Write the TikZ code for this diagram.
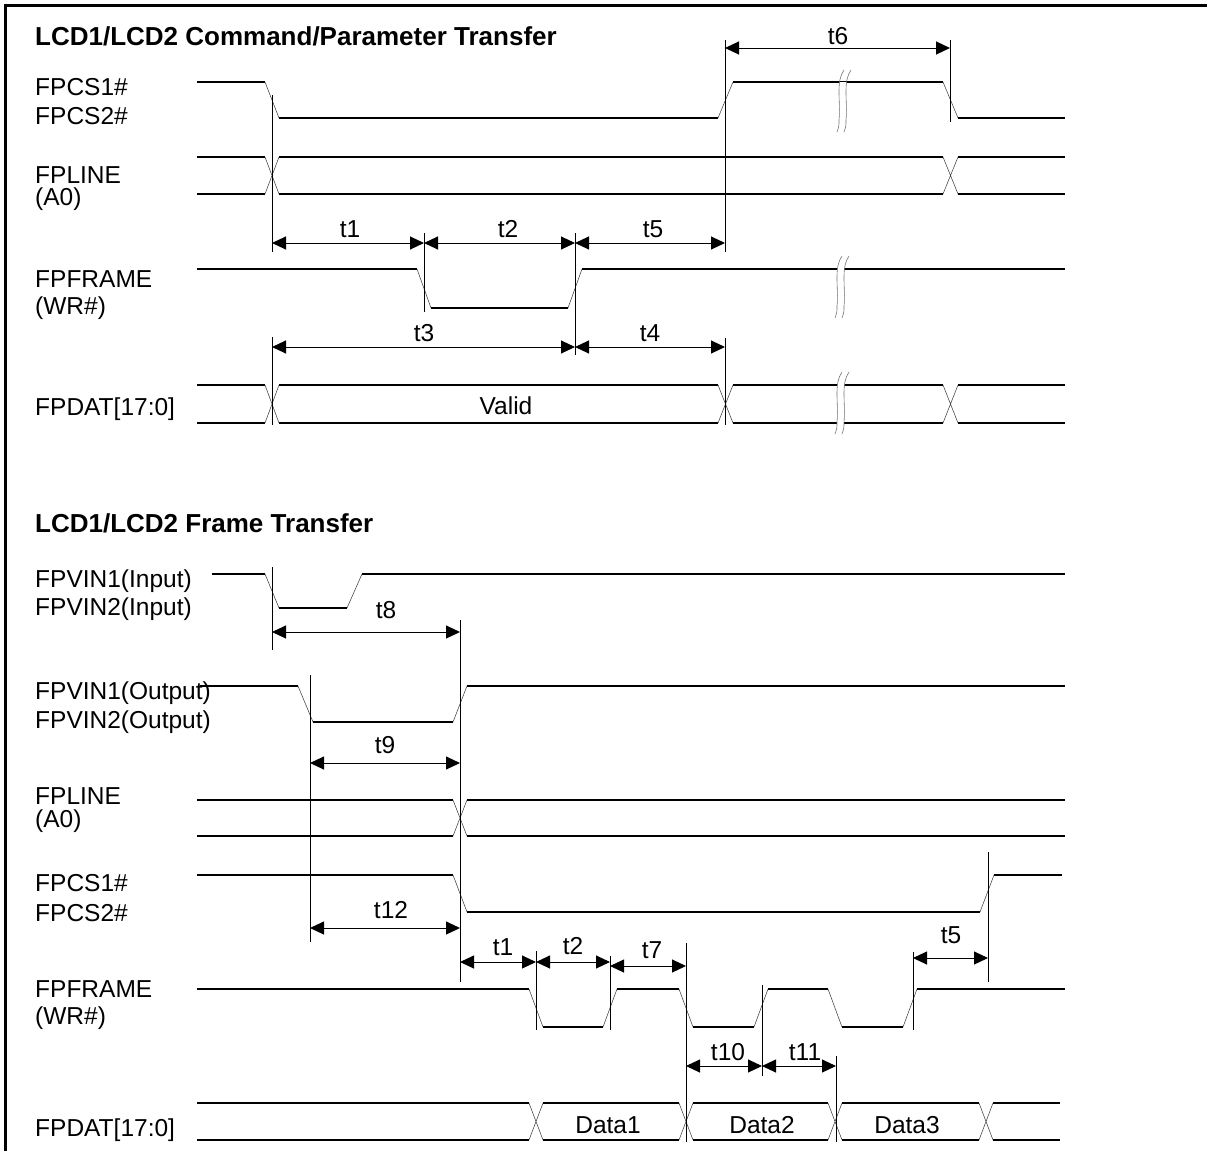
\documentclass[tikz,border=0pt]{standalone}
\usepackage{fontspec}
\setmainfont{Liberation Sans}
\usetikzlibrary{arrows.meta}
\tikzset{
  sigln/.style={line width=1.2pt, black},
  edgeln/.style={line width=0.55pt, black!75},
  vline/.style={line width=0.8pt, black},
  brkln/.style={line width=0.6pt, black!55},
  dimarr/.style={line width=1pt, {Triangle[length=14pt,width=13pt]}-{Triangle[length=14pt,width=13pt]}},
  sname/.style={font=\fontsize{24.5}{28}\selectfont, anchor=base west, inner sep=0pt},
  tname/.style={font=\fontsize{24.5}{28}\selectfont, anchor=base, inner sep=0pt},
  title/.style={font=\fontsize{26}{30}\selectfont\bfseries, anchor=base west, inner sep=0pt},
}
\newcommand\hbus[4]{\draw[sigln] (#1,#3) -- (#2,#3) (#1,#4) -- (#2,#4);}
\newcommand\xbus[4]{\draw[edgeln] (#1,#3) -- (#2,#4) (#1,#4) -- (#2,#3);}
\newcommand\brkmark[3]{%
  \fill[white] (#1,#2+12) rectangle (#1+7,#3-4);
  \foreach \dd in {0,7} {
    \draw[brkln] (#1+\dd+5,#2) .. controls (#1+\dd+1,#2+6) and (#1+\dd,#2+12) .. (#1+\dd,#2+22)
      .. controls (#1+\dd,#2+32) and (#1+\dd+1,#3-22) .. (#1+\dd,#3-12)
      .. controls (#1+\dd,#3-6) .. (#1+\dd-2,#3);
  }%
}
\begin{document}
\begin{tikzpicture}[x=1pt,y=-1pt]
\useasboundingbox (0,0) rectangle (1207,1151);
\draw[line width=3pt] (5,1151) -- (5,5) -- (1207,5);

% ================= TOP SECTION =================
\node[title] (title1) at (35,45) {LCD1/LCD2 Command/Parameter Transfer};

\node[sname] (l1a) at (35,95) {FPCS1\#};
\node[sname] (l1b) at (35,124) {FPCS2\#};
\node[sname] (l2a) at (35,183) {FPLINE};
\node[sname] (l2b) at (35,205) {(A0)};
\node[sname] (l3a) at (35,287) {FPFRAME};
\node[sname] (l3b) at (35,314) {(WR\#)};
\node[sname] (l4a) at (35,415) {FPDAT[17:0]};

% FPCS
\draw[sigln] (197,82) -- (265,82);
\draw[edgeln] (265,82) -- (279,118);
\draw[sigln] (279,118) -- (718,118);
\draw[edgeln] (718,118) -- (733,82);
\draw[sigln] (733,82) -- (943,82);
\draw[edgeln] (943,82) -- (958,118);
\draw[sigln] (958,118) -- (1065,118);
\brkmark{839}{70}{132}

% FPLINE
\hbus{197}{265}{157}{194}
\xbus{265}{279}{157}{194}
\hbus{279}{943}{157}{194}
\xbus{943}{958}{157}{194}
\hbus{958}{1065}{157}{194}

% FPFRAME
\draw[sigln] (197,269) -- (417,269);
\draw[edgeln] (417,269) -- (431,308);
\draw[sigln] (431,308) -- (568,308);
\draw[edgeln] (568,308) -- (582,269);
\draw[sigln] (582,269) -- (1065,269);
\brkmark{837}{256}{318}

% FPDAT
\hbus{197}{265}{385}{423}
\xbus{265}{279}{385}{423}
\hbus{279}{718}{385}{423}
\xbus{718}{733}{385}{423}
\hbus{733}{943}{385}{423}
\xbus{943}{958}{385}{423}
\hbus{958}{1065}{385}{423}
\brkmark{837}{372}{434}
\node[tname] (valid) at (506,414) {Valid};

% timing markers (top)
\coordinate (a272t) at (272,95);   \coordinate (a272b) at (272,252);
\coordinate (a725t) at (725,40);   \coordinate (a725b) at (725,252);
\coordinate (a950t) at (950,40);   \coordinate (a950b) at (950,122);
\coordinate (a424t) at (424,233);  \coordinate (a424b) at (424,312);
\coordinate (a575t) at (575,233);  \coordinate (a575b) at (575,355);
\coordinate (b272t) at (272,337);  \coordinate (b272b) at (272,425);
\coordinate (b725t) at (725,338);  \coordinate (b725b) at (725,425);
\draw[vline] (a272t) -- (a272b);
\draw[vline] (a725t) -- (a725b);
\draw[vline] (a950t) -- (a950b);
\draw[vline] (a424t) -- (a424b);
\draw[vline] (a575t) -- (a575b);
\draw[vline] (b272t) -- (b272b);
\draw[vline] (b725t) -- (b725b);

\coordinate (t6a) at (725,48);  \coordinate (t6b) at (950,48);
\draw[dimarr] (t6a) -- (t6b);
\node[tname] (t6) at (838,44) {t6};

\coordinate (t1a) at (272,243); \coordinate (t1b) at (424,243);
\coordinate (t2b) at (575,243); \coordinate (t5b) at (725,243);
\draw[dimarr] (t1a) -- (t1b);
\draw[dimarr] (t1b) -- (t2b);
\draw[dimarr] (t2b) -- (t5b);
\node[tname] (t1) at (350,237) {t1};
\node[tname] (t2) at (508,237) {t2};
\node[tname] (t5) at (653,237) {t5};

\coordinate (t3a) at (272,347); \coordinate (t3b) at (575,347); \coordinate (t4b) at (725,347);
\draw[dimarr] (t3a) -- (t3b);
\draw[dimarr] (t3b) -- (t4b);
\node[tname] (t3) at (424,341) {t3};
\node[tname] (t4) at (650,341) {t4};

% ================= BOTTOM SECTION =================
\node[title] (title2) at (35,532) {LCD1/LCD2 Frame Transfer};

\node[sname] (m1a) at (35,587) {FPVIN1(Input)};
\node[sname] (m1b) at (35,615) {FPVIN2(Input)};
\node[sname] (m2a) at (35,699) {FPVIN1(Output)};
\node[sname] (m2b) at (35,728) {FPVIN2(Output)};
\node[sname] (m3a) at (35,804) {FPLINE};
\node[sname] (m3b) at (35,827) {(A0)};
\node[sname] (m4a) at (35,891) {FPCS1\#};
\node[sname] (m4b) at (35,921) {FPCS2\#};
\node[sname] (m5a) at (35,997) {FPFRAME};
\node[sname] (m5b) at (35,1024) {(WR\#)};
\node[sname] (m6a) at (35,1136) {FPDAT[17:0]};

% FPVIN input
\draw[sigln] (212,574) -- (265,574);
\draw[edgeln] (265,574) -- (279,608);
\draw[sigln] (279,608) -- (347,608);
\draw[edgeln] (347,608) -- (362,574);
\draw[sigln] (362,574) -- (1065,574);

% FPVIN output
\draw[sigln] (200,686) -- (298,686);
\draw[edgeln] (298,686) -- (313,722);
\draw[sigln] (313,722) -- (453,722);
\draw[edgeln] (453,722) -- (467,686);
\draw[sigln] (467,686) -- (1065,686);

% FPLINE
\hbus{197}{453}{800}{836}
\xbus{453}{467}{800}{836}
\hbus{467}{1065}{800}{836}

% FPCS
\draw[sigln] (197,875) -- (453,875);
\draw[edgeln] (453,875) -- (467,912);
\draw[sigln] (467,912) -- (980,912);
\draw[edgeln] (980,912) -- (994,875);
\draw[sigln] (994,875) -- (1062,875);

% FPFRAME
\draw[sigln] (197,989) -- (529,989);
\draw[edgeln] (529,989) -- (543,1027);
\draw[sigln] (543,1027) -- (603,1027);
\draw[edgeln] (603,1027) -- (617,989);
\draw[sigln] (617,989) -- (679,989);
\draw[edgeln] (679,989) -- (693,1027);
\draw[sigln] (693,1027) -- (754,1027);
\draw[edgeln] (754,1027) -- (768,989);
\draw[sigln] (768,989) -- (828,989);
\draw[edgeln] (828,989) -- (842,1027);
\draw[sigln] (842,1027) -- (903,1027);
\draw[edgeln] (903,1027) -- (917,989);
\draw[sigln] (917,989) -- (1065,989);

% FPDAT
\hbus{197}{529}{1103}{1140}
\xbus{529}{543}{1103}{1140}
\hbus{543}{679}{1103}{1140}
\xbus{679}{693}{1103}{1140}
\hbus{693}{828}{1103}{1140}
\xbus{828}{842}{1103}{1140}
\hbus{842}{979}{1103}{1140}
\xbus{979}{993}{1103}{1140}
\hbus{993}{1060}{1103}{1140}
\node[tname] (d1) at (608,1133) {Data1};
\node[tname] (d2) at (762,1133) {Data2};
\node[tname] (d3) at (907,1133) {Data3};

% timing markers (bottom)
\coordinate (c272t) at (272,567); \coordinate (c272b) at (272,650);
\coordinate (c460t) at (460,620); \coordinate (c460b) at (460,982);
\coordinate (c310t) at (310,675); \coordinate (c310b) at (310,942);
\coordinate (c988t) at (988,852); \coordinate (c988b) at (988,982);
\coordinate (c536t) at (536,951); \coordinate (c536b) at (536,1030);
\coordinate (c610t) at (610,956); \coordinate (c610b) at (610,1030);
\coordinate (c686t) at (686,943); \coordinate (c686b) at (686,1142);
\coordinate (c913t) at (913,952); \coordinate (c913b) at (913,1030);
\coordinate (c762t) at (762,985); \coordinate (c762b) at (762,1076);
\coordinate (c836t) at (836,1056); \coordinate (c836b) at (836,1142);
\foreach \p in {c272,c460,c310,c988,c536,c610,c686,c913,c762,c836}
  \draw[vline] (\p t) -- (\p b);

\coordinate (t8a) at (272,632); \coordinate (t8b) at (460,632);
\draw[dimarr] (t8a) -- (t8b);
\node[tname] (t8) at (386,618) {t8};

\coordinate (t9a) at (310,763); \coordinate (t9b) at (460,763);
\draw[dimarr] (t9a) -- (t9b);
\node[tname] (t9) at (385,753) {t9};

\coordinate (t12a) at (310,928); \coordinate (t12b) at (460,928);
\draw[dimarr] (t12a) -- (t12b);
\node[tname] (t12) at (391,918) {t12};

\coordinate (u1a) at (460,962); \coordinate (u1b) at (536,962); \coordinate (u2b) at (610,962);
\draw[dimarr] (u1a) -- (u1b);
\draw[dimarr] (u1b) -- (u2b);
\node[tname] (bt1) at (503,955) {t1};
\node[tname] (bt2) at (573,954) {t2};
\coordinate (u7a) at (610,966); \coordinate (u7b) at (686,966);
\draw[dimarr] (u7a) -- (u7b);
\node[tname] (bt7) at (652,958) {t7};

\coordinate (u5a) at (913,958); \coordinate (u5b) at (988,958);
\draw[dimarr] (u5a) -- (u5b);
\node[tname] (bt5) at (951,943) {t5};

\coordinate (u10a) at (686,1066); \coordinate (u10b) at (762,1066); \coordinate (u11b) at (836,1066);
\draw[dimarr] (u10a) -- (u10b);
\draw[dimarr] (u10b) -- (u11b);
\node[tname] (bt10) at (728,1060) {t10};
\node[tname] (bt11) at (805,1060) {t11};
\end{tikzpicture}
\end{document}
